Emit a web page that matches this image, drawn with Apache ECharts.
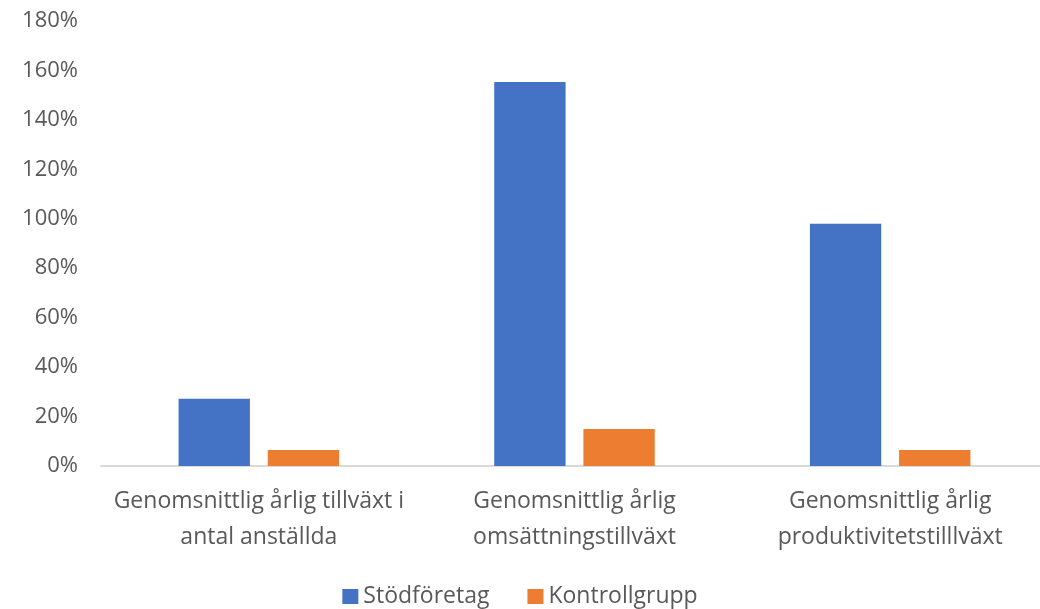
<!DOCTYPE html>
<html><head><meta charset="utf-8">
<script src="https://cdn.jsdelivr.net/npm/echarts@6/dist/echarts.min.js"></script>
<style>html,body{margin:0;padding:0;background:#fff}#c{width:1040px;height:609px}</style>
</head><body><div id="c"></div>
<script>
const categories = ['Genomsnittlig årlig tillväxt i\nantal anställda', 'Genomsnittlig årlig\nomsättningstillväxt', 'Genomsnittlig årlig\nproduktivitetstilllväxt'];
const stodforetag = [27.2, 155.3, 98.0];
const kontrollgrupp = [6.5, 15.0, 6.5];
const yTicks = [0, 20, 40, 60, 80, 100, 120, 140, 160, 180];

const font = 'Open Sans';
const chart = echarts.init(document.getElementById('c'), null, {renderer: 'canvas'});
chart.setOption({
  animation: false,
  textStyle: {fontFamily: font},
  grid: {left: 101, top: 21, width: 947, height: 445, containLabel: false, outerBoundsMode: 'none'},
  legend: {
    top: 580, left: 'center', itemWidth: 16, itemHeight: 15, itemGap: 38,
    icon: 'rect',
    textStyle: {color: '#595959', fontSize: 23, fontFamily: font},
    data: ['Stödföretag', 'Kontrollgrupp']
  },
  xAxis: {
    type: 'category', data: categories,
    axisLine: {lineStyle: {color: '#d9d9d9', width: 2}},
    axisTick: {show: false},
    axisLabel: {color: '#595959', fontSize: 23, lineHeight: 36, margin: 17, fontFamily: font, interval: 0, hideOverlap: false}
  },
  yAxis: {
    type: 'value', min: yTicks[0], max: yTicks[yTicks.length - 1], interval: 20,
    axisLine: {show: false}, axisTick: {show: false}, splitLine: {show: false},
    axisLabel: {color: '#595959', fontSize: 22, margin: 23, fontFamily: font, formatter: v => v + '%'}
  },
  series: [
    {name: 'Stödföretag', type: 'bar', data: stodforetag, barWidth: '22.6%', barGap: '25%', itemStyle: {color: '#4472c4'}},
    {name: 'Kontrollgrupp', type: 'bar', data: kontrollgrupp, barWidth: '22.6%', itemStyle: {color: '#ed7d31'}}
  ]
});
</script></body></html>
